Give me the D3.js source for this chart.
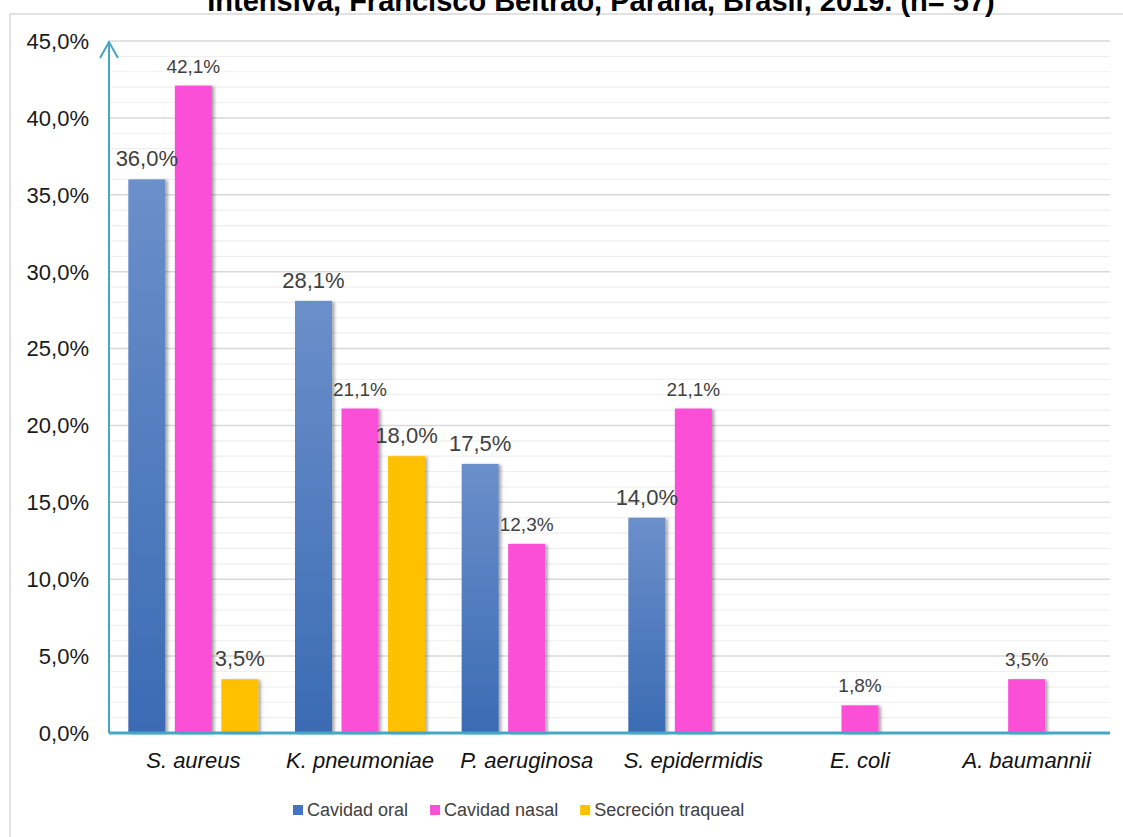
<!DOCTYPE html>
<meta charset="utf-8" />
<html>
<style>
  body { margin: 0; background: #fff; }
  svg { display: block; font-family: "Liberation Sans", Arial, sans-serif; }
</style>
<body>
<svg width="1123" height="837"></svg>
<script src="https://d3js.org/d3.v7.min.js"></script>
<script>
  // chart values
  var categories = ["S. aureus", "K. pneumoniae", "P. aeruginosa", "S. epidermidis", "E. coli", "A. baumannii"];
  var seriesNames = ["Cavidad oral", "Cavidad nasal", "Secreción traqueal"];
  var oral = [36.0, 28.1, 17.5, 14.0, null, null];
  var nasal = [42.1, 21.1, 12.3, 21.1, 1.8, 3.5];
  var traqueal = [3.5, 18.0, null, null, null, null];
  var yTicks = [0, 5, 10, 15, 20, 25, 30, 35, 40, 45];
  var titleText = "Intensiva, Francisco Beltrão, Paraná, Brasil, 2019. (n= 57)";

  var seriesValues = [oral, nasal, traqueal];
  var colors = ["url(#blueGrad)", "#fc4fd8", "#ffc000"];
  var legendColors = ["#4472c4", "#fc4fd8", "#ffc000"];

  var svg = d3.select("svg");
  var defs = svg.append("defs");

  // blue bars fade from light top to darker bottom
  var grad = defs.append("linearGradient")
    .attr("id", "blueGrad")
    .attr("x1", 0).attr("y1", 0).attr("x2", 0).attr("y2", 1);
  grad.append("stop").attr("offset", "0%").attr("stop-color", "#6b8fca");
  grad.append("stop").attr("offset", "100%").attr("stop-color", "#3b6bb4");

  var shadow = defs.append("filter").attr("id", "shadow")
    .attr("x", "-20%").attr("y", "-10%").attr("width", "150%").attr("height", "120%");
  shadow.append("feDropShadow")
    .attr("dx", 2.5).attr("dy", 1).attr("stdDeviation", 1.5)
    .attr("flood-color", "#000").attr("flood-opacity", 0.35);

  // outer frame (only left and top visible)
  svg.append("line").attr("x1", 10).attr("x2", 10).attr("y1", 14).attr("y2", 837)
    .attr("stroke", "#d9d9d9").attr("stroke-width", 1.5);
  svg.append("line").attr("x1", 10).attr("x2", 1123).attr("y1", 14).attr("y2", 14)
    .attr("stroke", "#d9d9d9").attr("stroke-width", 1.5);

  // title, its top is cut off as in the source image
  svg.append("text")
    .attr("x", 601).attr("y", 11)
    .attr("text-anchor", "middle")
    .attr("font-weight", "bold")
    .attr("font-size", "29px")
    .attr("fill", "#000")
    .text(titleText);

  var x0 = d3.scaleBand().domain(categories).range([110, 1110]).padding(0);
  var x1 = d3.scaleBand().domain(seriesNames).range([0, x0.bandwidth()])
    .paddingInner(0.204).paddingOuter(0.394);
  var y = d3.scaleLinear().domain([0, 45]).range([733, 41]);

  // gridlines: minor every 1%, major every 5%
  var minor = d3.range(1, 46).filter(function (d) { return d % 5 !== 0; });
  svg.append("g").selectAll("line").data(minor).enter().append("line")
    .attr("x1", 110).attr("x2", 1110)
    .attr("y1", function (d) { return y(d); })
    .attr("y2", function (d) { return y(d); })
    .attr("stroke", "#efefef").attr("stroke-width", 1.2);
  svg.append("g").selectAll("line").data(yTicks.slice(1)).enter().append("line")
    .attr("x1", 110).attr("x2", 1110)
    .attr("y1", function (d) { return y(d); })
    .attr("y2", function (d) { return y(d); })
    .attr("stroke", "#d9d9d9").attr("stroke-width", 1.5);

  // y tick labels
  svg.append("g").selectAll("text").data(yTicks).enter().append("text")
    .attr("x", 89)
    .attr("y", function (d) { return y(d); })
    .attr("dy", "0.36em")
    .attr("text-anchor", "end")
    .attr("font-size", "22px")
    .attr("fill", "#1a1a1a")
    .text(function (d) { return d.toFixed(1).replace(".", ",") + "%"; });

  // bars
  var groups = svg.append("g").selectAll("g").data(categories).enter().append("g")
    .attr("transform", function (d) { return "translate(" + x0(d) + ",0)"; });

  function rowsFor(c, i) {
    return seriesNames.map(function (s, k) { return { s: s, k: k, v: seriesValues[k][i] }; })
      .filter(function (d) { return d.v != null; });
  }

  groups.selectAll("rect")
    .data(rowsFor)
    .enter().append("rect")
    .attr("x", function (d) { return x1(d.s); })
    .attr("y", function (d) { return y(d.v); })
    .attr("width", x1.bandwidth())
    .attr("height", function (d) { return y(0) - y(d.v); })
    .attr("fill", function (d) { return colors[d.k]; })
    .attr("filter", "url(#shadow)");

  // value labels (nasal ones are a bit smaller)
  groups.selectAll("text")
    .data(rowsFor)
    .enter().append("text")
    .attr("x", function (d) { return x1(d.s) + x1.bandwidth() / 2; })
    .attr("y", function (d) { return y(d.v) - 13; })
    .attr("text-anchor", "middle")
    .attr("font-size", function (d) { return d.k === 1 ? "19px" : "22px"; })
    .attr("fill", "#404040")
    .text(function (d) { return d.v.toFixed(1).replace(".", ",") + "%"; });

  // axes in teal
  svg.append("line").attr("x1", 109).attr("x2", 1110).attr("y1", 733).attr("y2", 733)
    .attr("stroke", "#46a7c5").attr("stroke-width", 3);
  svg.append("line").attr("x1", 109).attr("x2", 109).attr("y1", 733).attr("y2", 42)
    .attr("stroke", "#46a7c5").attr("stroke-width", 2);
  svg.append("path").attr("d", "M100,58 L109,42 L118,58")
    .attr("fill", "none").attr("stroke", "#46a7c5").attr("stroke-width", 2);

  // category labels
  svg.append("g").selectAll("text").data(categories).enter().append("text")
    .attr("x", function (d) { return x0(d) + x0.bandwidth() / 2; })
    .attr("y", 768)
    .attr("text-anchor", "middle")
    .attr("font-style", "italic")
    .attr("font-size", "22px")
    .attr("fill", "#111")
    .text(function (d) { return d; });

  // legend
  var lx = 293;
  var legend = svg.append("g");
  seriesNames.forEach(function (s, k) {
    legend.append("rect").attr("x", lx).attr("y", 805).attr("width", 10).attr("height", 10)
      .attr("fill", legendColors[k]);
    var t = legend.append("text").attr("x", lx + 14).attr("y", 810).attr("dy", "0.36em")
      .attr("font-size", "18px").attr("fill", "#404040").text(s);
    lx += 14 + t.node().getComputedTextLength() + 22;
  });
</script>
</body>
</html>
